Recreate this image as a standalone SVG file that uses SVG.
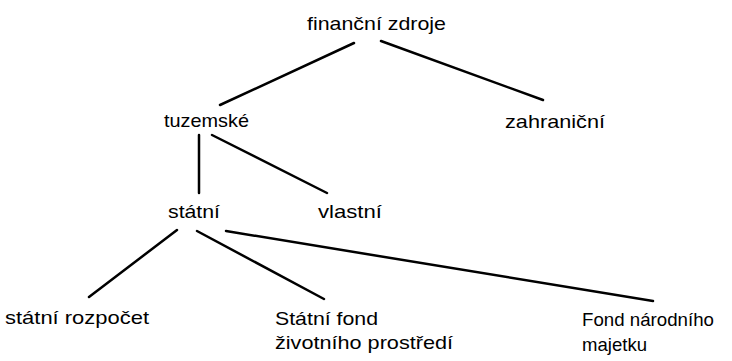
<svg xmlns="http://www.w3.org/2000/svg" width="732" height="361" viewBox="0 0 732 361">
<style>
text{font-family:"Liberation Sans",Arial,sans-serif;font-size:19px;fill:#000}
.c line{stroke:#000;stroke-width:2.5;stroke-linecap:round}
</style>
<rect width="732" height="361" fill="#fff"/>
<g class="c" id="connectors">
<line x1="354" y1="43" x2="220" y2="105"/>
<line x1="381" y1="41" x2="543" y2="100"/>
<line x1="199" y1="135" x2="199" y2="193"/>
<line x1="212" y1="135" x2="327" y2="193"/>
<line x1="177" y1="230" x2="89" y2="297"/>
<line x1="197" y1="231" x2="324" y2="299"/>
<line x1="226" y1="231" x2="653" y2="301"/>
</g>
<g id="financni"><text x="307" y="30" textLength="139" lengthAdjust="spacingAndGlyphs">finanční zdroje</text></g>
<g id="tuzemske"><text x="164" y="127" textLength="85" lengthAdjust="spacingAndGlyphs">tuzemské</text></g>
<g id="zahranicni"><text x="505" y="128" textLength="100" lengthAdjust="spacingAndGlyphs">zahraniční</text></g>
<g id="statni"><text x="168" y="218" textLength="52" lengthAdjust="spacingAndGlyphs">státní</text></g>
<g id="vlastni"><text x="318" y="218" textLength="64" lengthAdjust="spacingAndGlyphs">vlastní</text></g>
<g id="rozpocet"><text x="5" y="324" textLength="144" lengthAdjust="spacingAndGlyphs">státní rozpočet</text></g>
<g id="sfzp"><text x="275" y="325" textLength="103" lengthAdjust="spacingAndGlyphs">Státní fond</text><text x="275" y="349" textLength="178" lengthAdjust="spacingAndGlyphs">životního prostředí</text></g>
<g id="fnm"><text x="582" y="326" textLength="132" lengthAdjust="spacingAndGlyphs">Fond národního</text><text x="582" y="351" textLength="65" lengthAdjust="spacingAndGlyphs">majetku</text></g>
</svg>
